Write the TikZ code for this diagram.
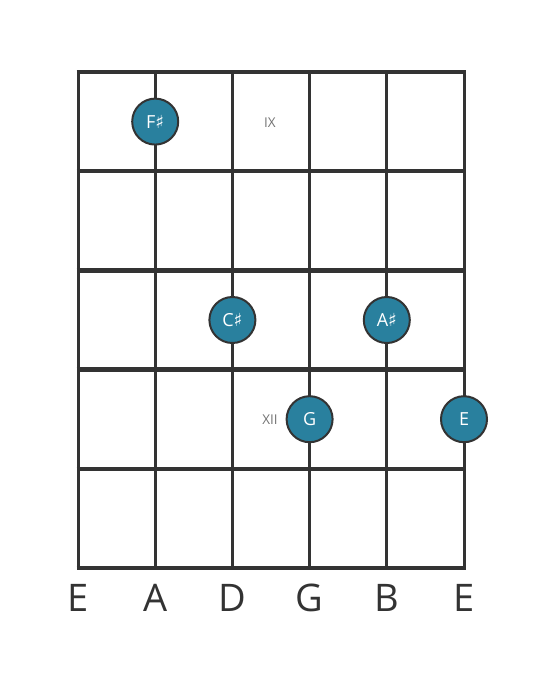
\documentclass[tikz,border=0pt]{standalone}
\usepackage{fontspec}
\setmainfont{Open Sans}
\newfontfamily\symfont{DejaVu Sans}
\usepackage{tikz}
\usetikzlibrary{positioning}
\definecolor{boardgray}{rgb}{0.2, 0.2, 0.2}
\definecolor{noteteal}{rgb}{0.16, 0.5, 0.62}
\definecolor{labelgray}{rgb}{0.45, 0.45, 0.45}
\newcommand{\shp}{{\symfont\char"266F}}

\begin{document}
\begin{tikzpicture}[line cap=butt,line join=miter,x=1pt,y=-1pt,
  notedot/.style={circle,draw=boardgray,line width=2pt,fill=noteteal,minimum size=46pt,inner sep=0pt,text=white,font=\fontsize{18}{18}\selectfont},
  fretnum/.style={text=labelgray,font=\fontsize{13.5}{13.5}\selectfont},
  stringname/.style={text=boardgray,font=\fontsize{38}{38}\selectfont}]
\useasboundingbox (0,0) rectangle (559,682);
% strings
\foreach \s/\x in {1/78,2/155.2,3/232.4,4/309.6,5/386.8,6/464}
\draw[color=boardgray,line width=3pt] (\x,72) -- (\x,568);
% frets
\foreach \f/\y in {0/72,1/171.2,2/270.4,3/369.6,4/468.8,5/568}
\draw[color=boardgray,line width=4.5pt] (76.5,\y) -- (465.5,\y);
% fret numbers
\node[fretnum] (nine) at (270,123) {IX};
\node[fretnum] (twelve) at (270,420) {XII};
% notes
\node[notedot] (fsharp) at (155.2,121.6) {F\shp};
\node[notedot] (csharp) at (232.4,320) {C\shp};
\node[notedot] (asharp) at (386.8,320) {A\shp};
\node[notedot] (gnote) at (309.6,419.2) {G};
\node[notedot] (enote) at (464,419.2) {E};
% string names
\foreach \n/\x/\t in {lowe/78/E,a/155.2/A,d/232.4/D,g/309.6/G,b/386.8/B,highe/464/E}
\node[stringname] (\n) at (\x,598) {\t};
\end{tikzpicture}
\end{document}
